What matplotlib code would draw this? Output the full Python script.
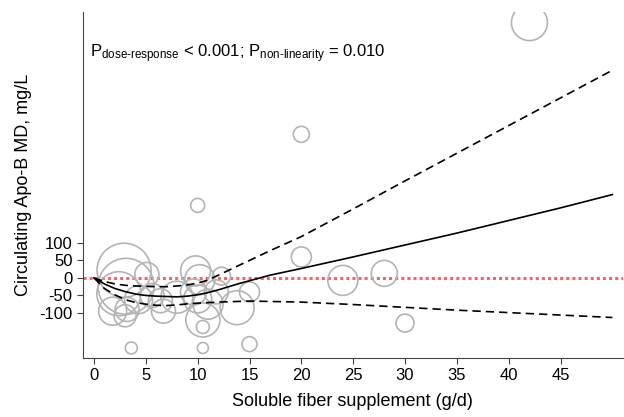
import numpy as np
import matplotlib
matplotlib.use('Agg')
import matplotlib.pyplot as plt

plt.rcParams['font.family'] = ['Liberation Sans', 'DejaVu Sans']
plt.rcParams['mathtext.fontset'] = 'custom'
plt.rcParams['mathtext.rm'] = 'Liberation Sans'
plt.rcParams['axes.unicode_minus'] = False

# study points: dose (g/d), mean difference (mg/L), bubble radius (px)
study_x = [2.9, 3.1, 2.4, 1.8, 3.0, 3.2, 4.3, 5.1, 5.6, 6.4, 6.7, 8.0, 3.6,
           9.8, 10.2, 9.6, 10.0, 10.5, 11.0, 11.8, 12.3, 13.8, 15.0, 10.5,
           10.5, 15.0, 10.0, 20.0, 20.0, 24.0, 28.0, 30.0, 42.0]
study_y = [22, -24, -45, -95, -108, -90, -62, 10, -50, -65, -95, -55, -200,
           20, -5, -40, -60, -120, -75, -40, 5, -85, -40, -140,
           -200, -189, 207, 410, 60, -7, 13, -129, 729]
study_r = [27, 28, 22, 14, 11, 12, 14, 12, 12, 12, 12, 16, 6,
           15, 15, 13, 14, 17, 15, 12, 9, 17, 10, 6.5,
           5.5, 7.5, 7, 8, 10, 15, 13, 9, 18]

# fitted curve and 95% CI
fit_x = [0, 1, 2, 3, 4, 5, 6, 7, 8, 9, 10, 11, 12, 13, 14, 15, 17, 20, 25, 30, 35, 40, 45, 50]
fit_y = [0, -17, -30, -39, -46, -50, -52, -53, -54, -52, -48, -42, -34, -25, -16, -8, 8, 27,
         60, 94, 128, 164, 200, 238]
upper_y = [0, -10, -17, -21, -23, -24, -25, -25, -23, -20, -15, -6, 8, 22, 36, 50, 78, 118,
           197, 277, 356, 435, 514, 593]
lower_x = [0, 1, 2, 3, 4, 5, 6, 7, 8, 9, 10, 12, 15, 20, 25, 30, 35, 40, 45, 50]
lower_y = [0, -30, -48, -62, -70, -75, -78, -79, -77, -74, -72, -69, -66, -69, -76, -84,
           -92, -99, -106, -113]

xticks = [0, 5, 10, 15, 20, 25, 30, 35, 40, 45]
yticks = [100, 50, 0, -50, -100]

fig = plt.figure(figsize=(6.24, 4.17), dpi=100)
ax = fig.add_axes([0.133, 0.142, 0.865, 0.829])

sizes = [(1.44 * r) ** 2 for r in study_r]
ax.scatter(study_x, study_y, s=sizes, facecolors='none', edgecolors='#b4b4b4',
           linewidths=1.2, zorder=2)

ax.axhline(0, color='#ff6060', linestyle=(0, (1, 1)), linewidth=2.2, zorder=1)

ax.plot(fit_x, fit_y, color='black', linewidth=1.2, zorder=3)
ax.plot(fit_x, upper_y, color='black', linewidth=1.2, linestyle=(0, (5, 3)), zorder=3)
ax.plot(lower_x, lower_y, color='black', linewidth=1.2, linestyle=(0, (5, 3)), zorder=3)

ax.set_xlim(-1.06, 51)
ax.set_ylim(-228, 759)
ax.set_xticks(xticks)
ax.set_yticks(yticks)
ax.tick_params(axis='both', labelsize=12, length=4, color='#444444', direction='out')
for s in ['top', 'right']:
    ax.spines[s].set_visible(False)
for s in ['left', 'bottom']:
    ax.spines[s].set_color('#444444')

ax.set_xlabel('Soluble fiber supplement (g/d)', fontsize=13, labelpad=7)
ax.set_ylabel('Circulating Apo-B MD, mg/L', fontsize=13, labelpad=5)

ax.text(-0.4, 640,
        r'$\mathregular{P_{\text{dose-response}}}$ < 0.001; $\mathregular{P_{\text{non-linearity}}}$ = 0.010',
        fontsize=12, va='center', ha='left')

fig.savefig('out.png', dpi=100)
